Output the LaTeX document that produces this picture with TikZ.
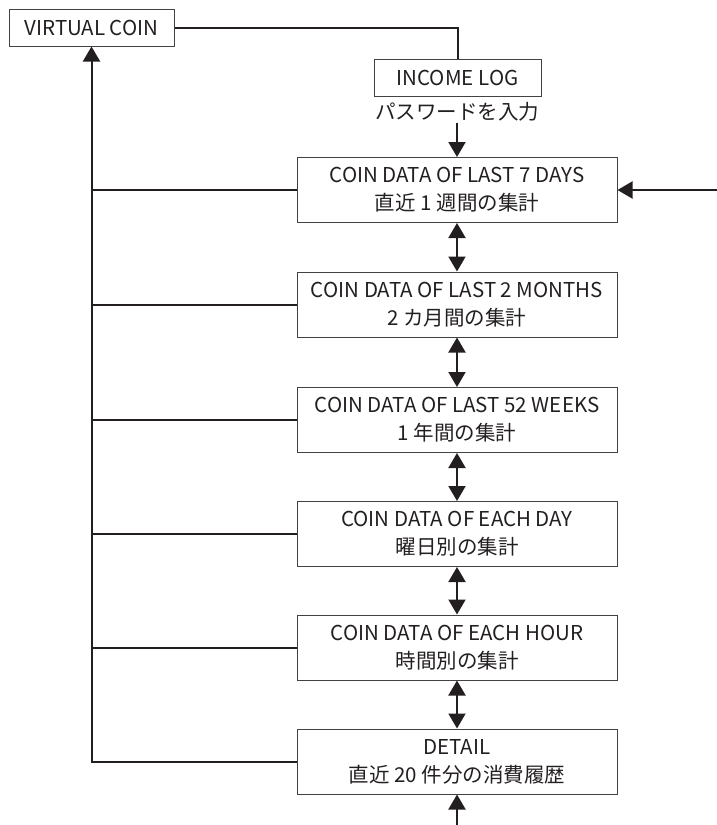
\documentclass[tikz,border=0pt]{standalone}
\usepackage{fontspec}
\setmainfont{Noto Sans CJK JP}
\usetikzlibrary{arrows.meta}
\definecolor{ink}{HTML}{231F20}
\tikzset{
  x=1pt, y=-1pt,
  box/.style={draw=ink!85, line width=1pt, minimum width=320pt, minimum height=65pt,
    align=center, inner sep=0pt, font=\fontsize{20.5}{28}\selectfont, text=ink},
  smallbox/.style={draw=ink!85, line width=1pt, minimum height=37pt,
    inner sep=0pt, font=\fontsize{20.5}{28}\selectfont, text=ink},
  conn/.style={draw=ink, line width=2pt},
  tip/.style={-{Triangle[length=15pt,width=17pt]}},
  tips/.style={{Triangle[length=15pt,width=17pt]}-{Triangle[length=15pt,width=17pt]}},
}
\begin{document}
\begin{tikzpicture}
\useasboundingbox (0,0) rectangle (717,825);

\node[smallbox, minimum width=165pt] (vc) at (91.5,27.5) {VIRTUAL COIN};
\node[smallbox, minimum width=167pt] (inc) at (457.5,77.5) {INCOME LOG};
\node[font=\fontsize{20.5}{22}\selectfont, text=ink, inner sep=1pt] (pw) at (457,112) {パスワードを入力};

\node[box] (b1) at (457,190)   {COIN DATA OF LAST 7 DAYS\\直近 1 週間の集計};
\node[box] (b2) at (457,304.5) {COIN DATA OF LAST 2 MONTHS\\2 カ月間の集計};
\node[box] (b3) at (457,420)   {COIN DATA OF LAST 52 WEEKS\\1 年間の集計};
\node[box] (b4) at (457,534)   {COIN DATA OF EACH DAY\\曜日別の集計};
\node[box] (b5) at (457,647.5) {COIN DATA OF EACH HOUR\\時間別の集計};
\node[box] (b6) at (457,761.5) {DETAIL\\直近 20 件分の消費履歴};

\coordinate (rin) at (717,190);
\coordinate (bin) at (457,825);

% top link from VIRTUAL COIN to INCOME LOG
\draw[conn] (vc.east) -| (inc.north);
\draw[conn, tip] (pw.south) -- (b1.north);

% links between the summary screens
\draw[conn, tips] (b1.south) -- (b2.north);
\draw[conn, tips] (b2.south) -- (b3.north);
\draw[conn, tips] (b3.south) -- (b4.north);
\draw[conn, tips] (b4.south) -- (b5.north);
\draw[conn, tips] (b5.south) -- (b6.north);

% entries from outside
\draw[conn, tip] (rin) -- (b1.east);
\draw[conn, tip] (bin) -- (b6.south);

% return trunk to VIRTUAL COIN
\draw[conn, tip] (b6.west) -| (vc.south);
\foreach \b in {b1,b2,b3,b4,b5}
  \draw[conn] (\b.west) -- (\b.west -| vc.south);
\end{tikzpicture}
\end{document}
